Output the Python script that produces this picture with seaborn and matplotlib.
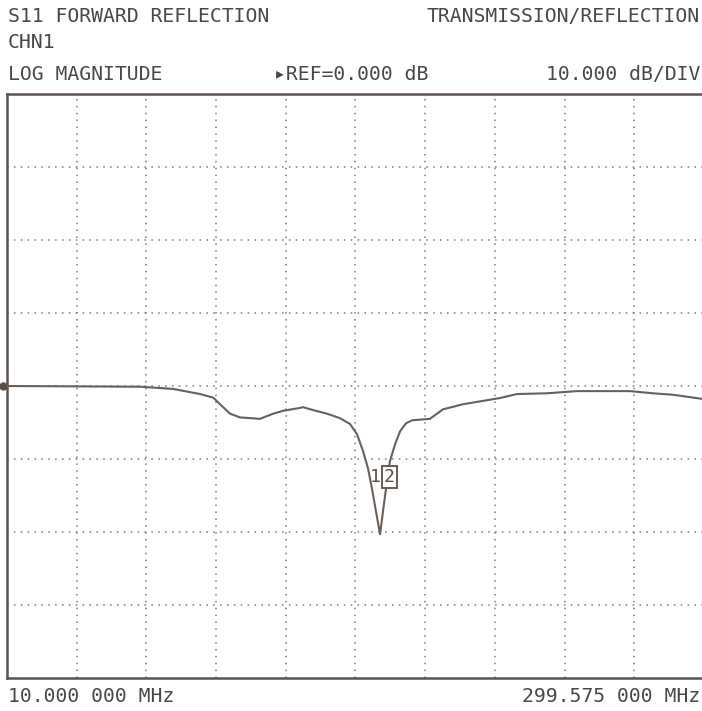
import matplotlib
matplotlib.use("Agg")
import matplotlib.pyplot as plt
import seaborn as sns
import pandas as pd
import numpy as np

# ---- data ----
freq_mhz = [10.0, 65.3, 79.0, 90.2, 95.7, 98.5, 102.7, 106.8, 115.1, 120.5, 124.7,
            131.7, 133.0, 137.2, 143.0, 148.3, 152.5, 155.4, 157.9, 160.0, 161.6,
            163.3, 165.0, 166.6, 167.9, 169.1, 171.2, 173.3, 175.8, 178.3, 185.7,
            191.1, 199.4, 214.8, 221.9, 234.3, 246.8, 268.8, 278.4, 286.7, 299.575]
s11_db = [0.0, -0.1, -0.4, -1.1, -1.6, -2.5, -3.8, -4.3, -4.5, -3.8, -3.4,
          -3.0, -2.9, -3.3, -3.8, -4.4, -5.2, -6.6, -8.9, -11.3, -14.0,
          -17.2, -20.3, -16.2, -13.0, -10.3, -8.0, -6.2, -5.1, -4.7, -4.5,
          -3.2, -2.5, -1.65, -1.1, -1.0, -0.7, -0.7, -1.0, -1.2, -1.8]
start_mhz = 10.0
stop_mhz = 299.575
ref_db = 0.0
db_per_div = 10.0
n_xdiv = 10
n_ydiv = 8

header_left = ["S11 FORWARD REFLECTION", "CHN1", "LOG MAGNITUDE"]
header_right = "TRANSMISSION/REFLECTION"
ref_label = "\u25b8REF=0.000 dB"
scale_label = "10.000 dB/DIV"
start_label = "10.000 000 MHz"
stop_label = "299.575 000 MHz"

df = pd.DataFrame({"freq": freq_mhz, "db": s11_db})

sns.set_style("white")
plt.rcParams["font.family"] = ["DejaVu Sans Mono", "DejaVu Sans"]

W, H = 702, 711
fig = plt.figure(figsize=(W / 100, H / 100), dpi=100)
fig.patch.set_facecolor("white")

x0, x1, y0, y1 = 7, 704, 94, 678
ax = fig.add_axes([x0 / W, 1 - y1 / H, (x1 - x0) / W, (y1 - y0) / H])
ax.set_facecolor("white")

ymin = ref_db - db_per_div * n_ydiv / 2
ymax = ref_db + db_per_div * n_ydiv / 2
ax.set_xlim(start_mhz, stop_mhz)
ax.set_ylim(ymin, ymax)

grid_col = "#7a7a7a"
xticks = np.linspace(start_mhz, stop_mhz, n_xdiv + 1)
yticks = np.linspace(ymin, ymax, n_ydiv + 1)
for xv in xticks[1:-1]:
    ax.axvline(xv, color=grid_col, lw=1.1, ls=(0, (1, 3.5)), zorder=1)
for yv in yticks[1:-1]:
    ax.axhline(yv, color=grid_col, lw=1.1, ls=(0, (1, 3.5)), zorder=1)

sns.lineplot(data=df, x="freq", y="db", ax=ax, color="#6b5f59", lw=1.5, zorder=3)

ax.set_xticks([])
ax.set_yticks([])
ax.set_xlabel("")
ax.set_ylabel("")
for s in ax.spines.values():
    s.set_color("#5e524c")
    s.set_linewidth(1.8)
    s.set_visible(True)

# markers
ax.text(163.0, -12.5, "1", fontsize=13, color="#5a4e48", ha="center", va="center",
        zorder=4)
ax.text(168.8, -12.5, "2", fontsize=13, color="#5a4e48", ha="center", va="center",
        zorder=4,
        bbox=dict(boxstyle="square,pad=0.12", fc="white", ec="#5a4e48", lw=1.3))

# reference pointer on the left edge
ax.plot([-0.006], [0.5], transform=ax.transAxes, marker="o", ms=5,
        color="#5a4e48", clip_on=False)

txt_col = "#4a4646"
fs = 14.2
fig.text(8 / W, 1 - 17 / H, header_left[0], fontsize=fs, color=txt_col, va="center", ha="left")
fig.text(8 / W, 1 - 43 / H, header_left[1], fontsize=fs, color=txt_col, va="center", ha="left")
fig.text(8 / W, 1 - 74 / H, header_left[2], fontsize=fs, color=txt_col, va="center", ha="left")
fig.text(700 / W, 1 - 17 / H, header_right, fontsize=fs, color=txt_col, va="center", ha="right")
fig.text(274 / W, 1 - 74 / H, ref_label, fontsize=fs, color=txt_col, va="center", ha="left")
fig.text(700 / W, 1 - 74 / H, scale_label, fontsize=fs, color=txt_col, va="center", ha="right")
fig.text(8 / W, 1 - 696 / H, start_label, fontsize=fs, color=txt_col, va="center", ha="left")
fig.text(700 / W, 1 - 696 / H, stop_label, fontsize=fs, color=txt_col, va="center", ha="right")

fig.savefig("out.png", dpi=100, facecolor="white")
